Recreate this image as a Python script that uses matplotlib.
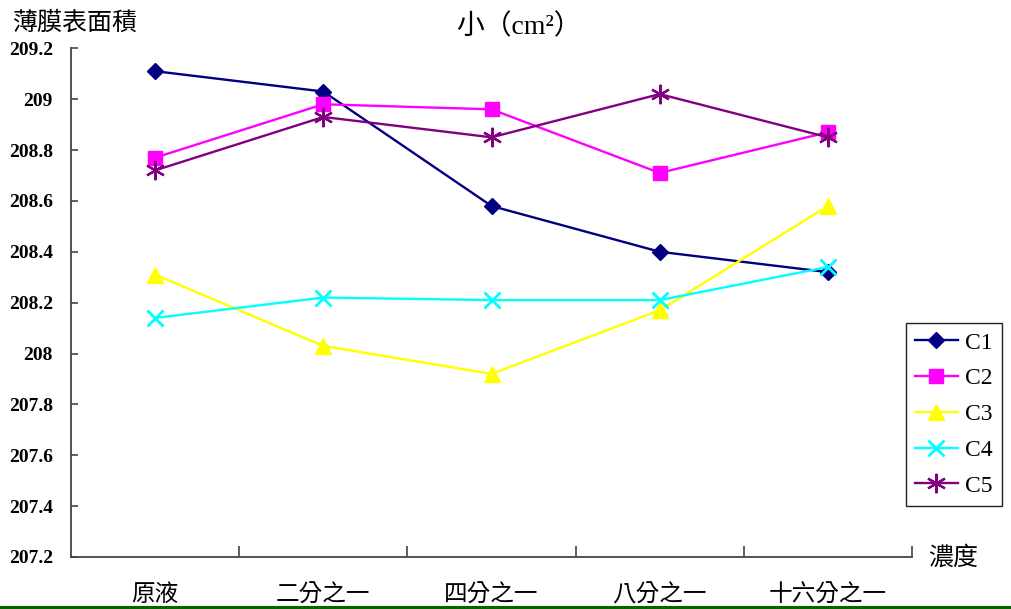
import matplotlib
matplotlib.use('Agg')
import matplotlib.pyplot as plt
from matplotlib.lines import Line2D
import numpy as np

# concentration levels along the x axis
categories = ['原液', '二分之一', '四分之一', '八分之一', '十六分之一']

# film surface area for each sample (cm^2)
c1 = [209.11, 209.03, 208.58, 208.40, 208.32]
c2 = [208.77, 208.98, 208.96, 208.71, 208.87]
c3 = [208.31, 208.03, 207.92, 208.17, 208.58]
c4 = [208.14, 208.22, 208.21, 208.21, 208.34]
c5 = [208.72, 208.93, 208.85, 209.02, 208.85]
series_names = ['C1', 'C2', 'C3', 'C4', 'C5']

y_ticks = [207.2, 207.4, 207.6, 207.8, 208, 208.2, 208.4, 208.6, 208.8, 209, 209.2]
y_tick_labels = ['207.2', '207.4', '207.6', '207.8', '208', '208.2', '208.4',
                 '208.6', '208.8', '209', '209.2']

cjk = ['Noto Sans CJK TC', 'DejaVu Sans']
serif_cjk = ['Liberation Serif', 'Noto Sans CJK TC']

fig = plt.figure(figsize=(10.12, 6.09), dpi=100)
ax = fig.add_axes([0.0702, 0.0854, 0.8310, 0.8353])

styles = [
    dict(color='#000080', marker='D', markersize=8),
    dict(color='#FF00FF', marker='s', markersize=10),
    dict(color='#FFFF00', marker='^', markersize=11),
    dict(color='#00FFFF', marker='x', markersize=12, markeredgewidth=2),
    dict(color='#800080', marker=(6, 2, 0), markersize=14, markeredgewidth=1.6),
]

x = np.arange(len(categories)) + 0.5
for vals, name, st in zip([c1, c2, c3, c4, c5], series_names, styles):
    ax.plot(x, vals, linewidth=1.7, label=name, **st)

ax.set_xlim(0, len(categories))
ax.set_ylim(207.2, 209.2)

# boundaries between categories get the tick marks, centers get the labels
ax.set_xticks(np.arange(1, len(categories) + 1))
ax.set_xticklabels([])
ax.set_xticks(x, minor=True)
ax.set_xticklabels(categories, minor=True, fontsize=17, family=cjk)
ax.tick_params(axis='x', which='major', direction='in', length=8, width=1.2, color='#444444')
ax.tick_params(axis='x', which='minor', length=0, pad=19)

ax.set_yticks(y_ticks)
ax.set_yticklabels(y_tick_labels, fontsize=14, family='Liberation Serif', fontweight='bold')
ax.tick_params(axis='y', direction='in', length=5, width=1.2, color='#444444', pad=13)

for side in ['top', 'right']:
    ax.spines[side].set_visible(False)
for side in ['left', 'bottom']:
    ax.spines[side].set_linewidth(1.3)
    ax.spines[side].set_color('#444444')

fig.text(0.012, 0.962, '薄膜表面積', fontsize=18, family=cjk, ha='left', va='center')
fig.text(0.513, 0.955, '小（cm²）', fontsize=20, family=serif_cjk, ha='center', va='center')
fig.text(0.917, 0.085, '濃度', fontsize=18, family=cjk, ha='left', va='center')

leg = ax.legend(loc='upper left', bbox_to_anchor=(0.895, 0.47), bbox_transform=fig.transFigure,
                borderaxespad=0, fancybox=False, framealpha=1, edgecolor='#222222',
                prop={'family': 'Liberation Serif', 'size': 17},
                handlelength=1.8, handletextpad=0.3, labelspacing=0.6, borderpad=0.4)
leg.get_frame().set_linewidth(1.0)

# green rule along the bottom edge
fig.add_artist(Line2D([0, 1], [0.0035, 0.0035], transform=fig.transFigure,
                      color='#006600', linewidth=2.2))

fig.savefig('out.png', dpi=100)
